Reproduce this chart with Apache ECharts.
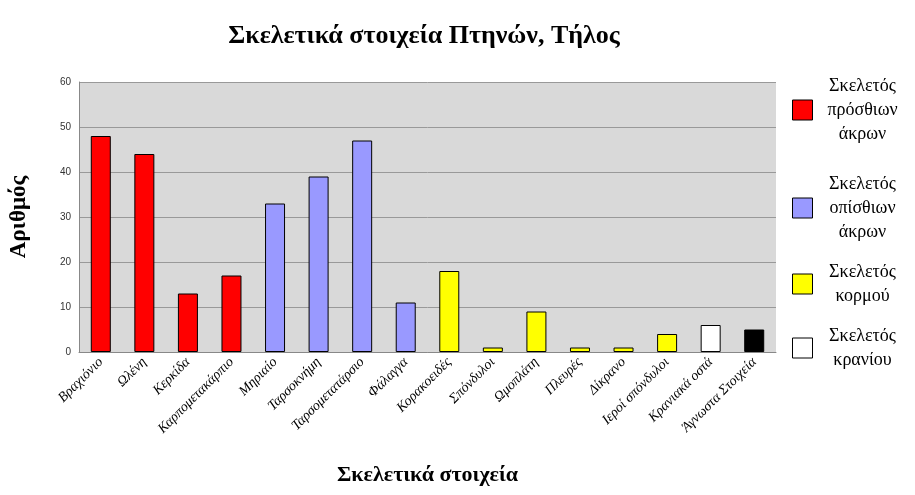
<!DOCTYPE html>
<html><head><meta charset="utf-8">
<script src="https://cdn.jsdelivr.net/npm/echarts@6/dist/echarts.min.js"></script>
<style>html,body{margin:0;background:#fff}#c{width:915px;height:495px}</style>
</head><body><div id="c"></div>
<script>
var categories = ['Βραχιόνιο', 'Ωλένη', 'Κερκίδα', 'Καρπομετακάρπιο', 'Μηριαίο', 'Ταρσοκνήμη', 'Ταρσομετατάρσιο', 'Φάλαγγα',
    'Κορακοειδές', 'Σπόνδυλοι', 'Ωμοπλάτη', 'Πλευρές', 'Δίκρανο', 'Ιεροί σπόνδυλοι', 'Κρανιακά οστά', 'Άγνωστα Στοιχεία'];
var values = [48, 44, 13, 17, 33, 39, 47, 11, 18, 1, 9, 1, 1, 4, 6, 5];
// group index per bar: 0 front limbs, 1 hind limbs, 2 trunk, 3 skull, 4 unknown
var groups = [0, 0, 0, 0, 1, 1, 1, 1, 2, 2, 2, 2, 2, 2, 3, 4];
var groupNames = ['Σκελετός\nπρόσθιων\nάκρων', 'Σκελετός\nοπίσθιων\nάκρων', 'Σκελετός\nκορμού', 'Σκελετός\nκρανίου', 'Άγνωστα'];
var groupColors = ['#ff0000', '#9999ff', '#ffff00', '#ffffff', '#000000'];

var serif = 'Liberation Serif, DejaVu Serif, serif';
var series = groupNames.map(function (name, g) {
    return {
        name: name,
        type: 'bar',
        stack: 'all',
        barWidth: 20,
        itemStyle: { color: groupColors[g], borderColor: '#000', borderWidth: 1 },
        data: values.map(function (v, i) { return groups[i] === g ? v : '-'; })
    };
});

var legendTops = [72, 170, 258, 322];
var legends = legendTops.map(function (t, g) {
    return {
        data: [groupNames[g]],
        left: 787, top: t,
        orient: 'vertical',
        icon: 'rect', itemWidth: 20, itemHeight: 20,
        itemStyle: { borderColor: '#000', borderWidth: 1 },
        formatter: function (n) {
            return n.split('\n').map(function (s) { return '{a|' + s + '}'; }).join('\n');
        },
        textStyle: {
            color: '#000',
            rich: { a: { fontFamily: serif, fontSize: 18, color: '#000', align: 'center', width: 90, lineHeight: 24 } }
        },
        selectedMode: false
    };
});

var chart = echarts.init(document.getElementById('c'));
chart.setOption({
    animation: false,
    title: {
        text: 'Σκελετικά στοιχεία Πτηνών, Τήλος',
        left: 419, top: 18, textAlign: 'center',
        textStyle: { fontFamily: serif, fontSize: 26, fontWeight: 'bold', color: '#000' }
    },
    legend: legends,
    grid: { left: 79, right: 139, top: 82, bottom: 143, backgroundColor: '#d9d9d9', show: true, borderWidth: 0 },
    xAxis: {
        type: 'category',
        data: categories,
        name: 'Σκελετικά στοιχεία',
        nameLocation: 'middle', nameGap: 112,
        nameTextStyle: { fontFamily: serif, fontSize: 22, fontWeight: 'bold', color: '#000' },
        axisLine: { lineStyle: { color: '#888' } },
        axisTick: { show: false },
        axisLabel: { rotate: 45, interval: 0, fontFamily: serif, fontStyle: 'italic', fontSize: 14, color: '#000' }
    },
    yAxis: {
        type: 'value', min: 0, max: 60, interval: 10,
        name: 'Αριθμός',
        nameLocation: 'middle', nameGap: 48, nameRotate: 90,
        nameTextStyle: { fontFamily: serif, fontSize: 23, fontWeight: 'bold', color: '#000' },
        axisLine: { show: true, lineStyle: { color: '#888' } },
        axisLabel: { fontSize: 10, color: '#333' },
        splitLine: { lineStyle: { color: '#999' } }
    },
    series: series
});
</script></body></html>
